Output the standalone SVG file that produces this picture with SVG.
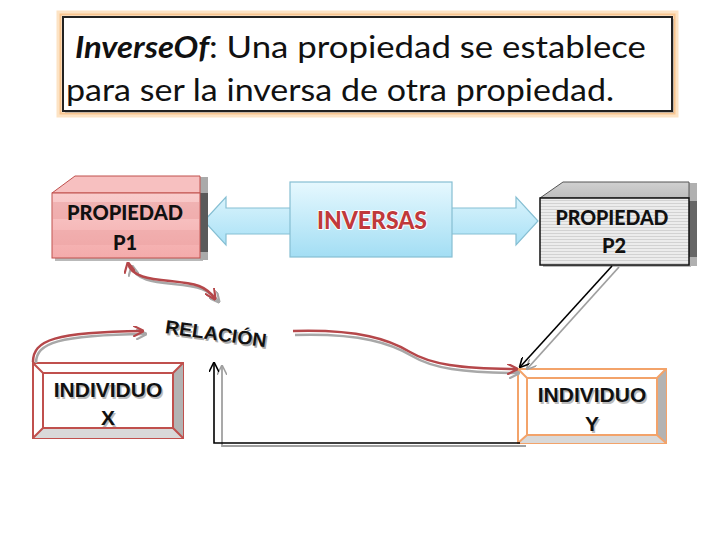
<svg xmlns="http://www.w3.org/2000/svg" width="728" height="546" viewBox="0 0 728 546">
<style>
.lbl{font-family:"Lato","Liberation Sans",sans-serif;font-weight:900;fill:#111;text-anchor:middle}
.ind{font-family:"Liberation Sans",Arial,sans-serif;font-weight:bold;fill:#111;text-anchor:middle;font-size:21px}
.inds{font-family:"Liberation Sans",Arial,sans-serif;font-weight:bold;fill:#bbb;text-anchor:middle;font-size:21px}
.ttl{font-family:"Lato","Open Sans",sans-serif;font-size:31px;fill:#111}
.red{fill:none;stroke:#b5474a;stroke-width:2.5}
.redsh{fill:none;stroke:#a8a8a8;stroke-width:2.5}
.blk{fill:none;stroke:#000;stroke-width:1.6}
.gry{fill:none;stroke:#a0a0a0;stroke-width:1.8}
</style>
<defs>
<linearGradient id="pinkG" x1="0" y1="0" x2="0" y2="1"><stop offset="0" stop-color="#f9cccc"/><stop offset="1" stop-color="#f4abab"/></linearGradient>
<linearGradient id="blueG" x1="0" y1="0" x2="0" y2="1"><stop offset="0" stop-color="#e6f8fe"/><stop offset="1" stop-color="#a3def4"/></linearGradient>
<linearGradient id="arrG" x1="0" y1="0" x2="0" y2="1"><stop offset="0" stop-color="#d9f3fc"/><stop offset="1" stop-color="#a9e1f6"/></linearGradient>
<linearGradient id="greyTop" x1="0" y1="0" x2="0" y2="1"><stop offset="0" stop-color="#d0d0d0"/><stop offset="1" stop-color="#bdbdbd"/></linearGradient>
<pattern id="stripes" width="6" height="3" patternUnits="userSpaceOnUse"><rect width="6" height="3" fill="#ececec"/><rect y="2" width="6" height="1" fill="#d2d2d2"/></pattern>
<marker id="mRed" viewBox="0 0 10 10" refX="9" refY="5" markerWidth="11" markerHeight="11" markerUnits="userSpaceOnUse" orient="auto-start-reverse"><path d="M0,0 L10,5 L0,10" fill="none" stroke="#b5474a" stroke-width="2"/></marker>
<marker id="mGry" viewBox="0 0 10 10" refX="9" refY="5" markerWidth="11" markerHeight="11" markerUnits="userSpaceOnUse" orient="auto-start-reverse"><path d="M0,0 L10,5 L0,10" fill="none" stroke="#a8a8a8" stroke-width="2"/></marker>
<marker id="mBlk" viewBox="0 0 10 10" refX="9" refY="5" markerWidth="10" markerHeight="10" markerUnits="userSpaceOnUse" orient="auto"><path d="M0,0 L10,5 L0,10" fill="none" stroke="#000" stroke-width="1.6"/></marker>
<marker id="mGry2" viewBox="0 0 10 10" refX="9" refY="5" markerWidth="10" markerHeight="10" markerUnits="userSpaceOnUse" orient="auto"><path d="M0,0 L10,5 L0,10" fill="none" stroke="#a0a0a0" stroke-width="1.6"/></marker>
</defs>
<rect width="728" height="546" fill="#fff"/>

<g id="title">
<rect x="59" y="13" width="617" height="102" fill="none" stroke="#fde3c4" stroke-width="5"/>
<rect x="60.5" y="14.5" width="614" height="99" fill="none" stroke="#f8c590" stroke-width="2"/>
<rect x="65" y="19" width="609" height="94" fill="#8a8a8a" opacity="0.45"/>
<rect x="63" y="17" width="609" height="94" fill="#fff" stroke="#222" stroke-width="2"/>
<text class="ttl" x="75" y="58" font-weight="bold" font-style="italic" textLength="134" lengthAdjust="spacingAndGlyphs">InverseOf</text>
<text class="ttl" x="209" y="58" textLength="437" lengthAdjust="spacingAndGlyphs">: Una propiedad se establece</text>
<text class="ttl" x="66" y="101" textLength="548" lengthAdjust="spacingAndGlyphs">para ser la inversa de otra propiedad.</text>
</g>

<g id="inversas">
<polygon points="204,221 226,197 226,208 516,208 516,197 538,221 516,245 516,234 226,234 226,245" fill="url(#arrG)" stroke="#86bfd3" stroke-width="1.2"/>
<rect x="290" y="182" width="162" height="75" fill="url(#blueG)" stroke="#86bfd3" stroke-width="1.2"/>
<text class="lbl" x="372" y="229" font-size="25" style="fill:#c0393b;stroke:#fff;stroke-width:2;paint-order:stroke" textLength="110" lengthAdjust="spacingAndGlyphs">INVERSAS</text>
</g>

<g id="p1">
<rect x="55" y="256" width="148" height="5" fill="#b9b9b9"/>
<rect x="200" y="177" width="8" height="83" fill="#aaa"/>
<rect x="200" y="193" width="8" height="59" fill="#5a5a5a"/>
<polygon points="52,193 75,176 200,176 200,193" fill="#f7c0c0" stroke="#c0504d" stroke-width="1"/>
<rect x="52" y="193" width="148" height="65" fill="url(#pinkG)" stroke="#c0504d" stroke-width="1"/>
<rect x="53" y="202" width="146" height="17" fill="#e79a9a" opacity="0.45"/>
<rect x="53" y="230" width="146" height="15" fill="#e79a9a" opacity="0.35"/>
<text class="lbl" x="125" y="220" font-size="20" textLength="116" lengthAdjust="spacingAndGlyphs">PROPIEDAD</text>
<text class="lbl" x="125" y="250" font-size="20">P1</text>
</g>

<g id="p2">
<rect x="543" y="263" width="148" height="4" fill="#b9b9b9"/>
<rect x="689" y="183" width="8" height="83" fill="#b0b0b0"/>
<rect x="689" y="201" width="8" height="56" fill="#666"/>
<polygon points="540,198 563,182 689,182 689,198" fill="url(#greyTop)" stroke="#555" stroke-width="1"/>
<rect x="540" y="198" width="149" height="67" fill="url(#stripes)" stroke="#111" stroke-width="1.5"/>
<text class="lbl" x="612" y="225" font-size="20" textLength="113" lengthAdjust="spacingAndGlyphs">PROPIEDAD</text>
<text class="lbl" x="614" y="253" font-size="20">P2</text>
</g>

<g id="indX">
<rect x="33" y="363" width="150" height="75" fill="#fff" stroke="#c0504d" stroke-width="2"/>
<polygon points="173,373 183,363 183,438 173,428" fill="#b3b3b3"/>
<polygon points="43,428 173,428 183,438 33,438" fill="#d9d9d9"/>
<rect x="43" y="373" width="130" height="55" fill="#fff" stroke="#c0504d" stroke-width="2"/>
<path d="M33,363 L43,373 M183,363 L173,373 M33,438 L43,428 M183,438 L173,428" stroke="#c0504d" stroke-width="2"/>
<text class="inds" x="109.5" y="398.5">INDIVIDUO</text>
<text class="inds" x="109.5" y="426.5">X</text>
<text class="ind" x="108" y="397">INDIVIDUO</text>
<text class="ind" x="108" y="425">X</text>
</g>

<g id="indY">
<rect x="518" y="369" width="148" height="74" fill="#fff" stroke="#f3a36a" stroke-width="2"/>
<polygon points="657,378 666,369 666,443 657,435" fill="#b3b3b3"/>
<polygon points="527,435 657,435 666,443 518,443" fill="#d9d9d9"/>
<rect x="527" y="378" width="130" height="57" fill="#fff" stroke="#f3a36a" stroke-width="2"/>
<path d="M518,369 L527,378 M666,369 L657,378 M518,443 L527,435 M666,443 L657,435" stroke="#f3a36a" stroke-width="2"/>
<text class="inds" x="593.5" y="403.5">INDIVIDUO</text>
<text class="inds" x="593.5" y="432.5">Y</text>
<text class="ind" x="592" y="402">INDIVIDUO</text>
<text class="ind" x="592" y="431">Y</text>
</g>

<g id="relacion">
<text x="166" y="335" transform="rotate(8 166 335)" font-family="'Liberation Sans',Arial,sans-serif" font-weight="bold" font-size="19" fill="#aaa" textLength="102" lengthAdjust="spacingAndGlyphs">RELACIÓN</text>
<text x="164.5" y="333" transform="rotate(8 164.5 333)" font-family="'Liberation Sans',Arial,sans-serif" font-weight="bold" font-size="19" fill="#111" textLength="102" lengthAdjust="spacingAndGlyphs">RELACIÓN</text>
</g>

<g id="connectors">
<path class="redsh" d="M36,363 C36,343 58,335 146,334" marker-end="url(#mGry)"/>
<path class="red" d="M33,362 C33,340 55,332 143,331" marker-end="url(#mRed)"/>
<path class="redsh" d="M132,266 C136,287 178,281 202,289 C210,292 214,296 219,302" marker-start="url(#mGry)" marker-end="url(#mGry)"/>
<path class="red" d="M128,263 C132,284 175,278 199,286 C207,289 211,293 215,299" marker-start="url(#mRed)" marker-end="url(#mRed)"/>
<path class="redsh" d="M295,335 C362,333 392,344 412,356 C432,368 462,373 519,373" marker-end="url(#mGry)"/>
<path class="red" d="M293,331 C360,329 390,340 410,352 C430,364 460,369 517,369" marker-end="url(#mRed)"/>
<path class="gry" d="M619,267 L527,369" marker-end="url(#mGry2)"/>
<path class="blk" d="M612,266 L520,367" marker-end="url(#mBlk)"/>
<path class="gry" d="M526,446 L222,446 L222,366" marker-end="url(#mGry2)"/>
<path class="blk" d="M520,443 L214,443 L214,363" marker-end="url(#mBlk)"/>
</g>
</svg>
